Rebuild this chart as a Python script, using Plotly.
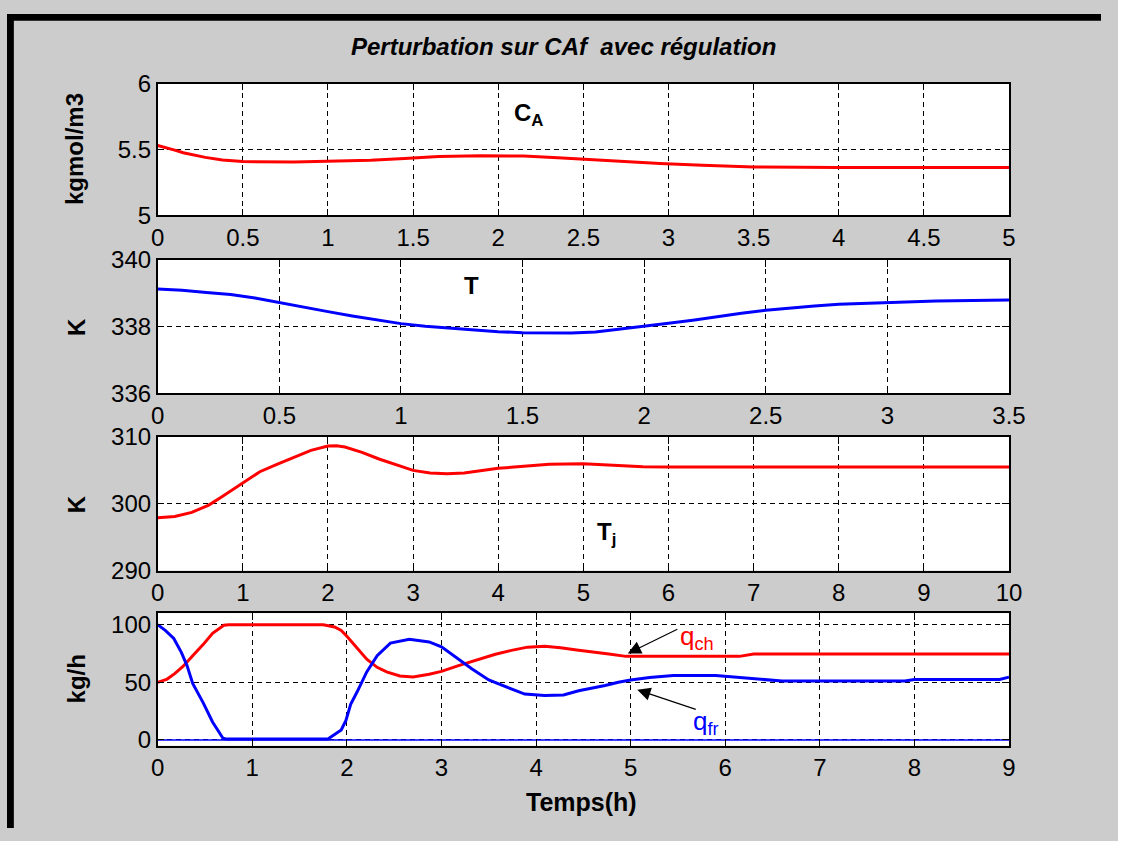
import plotly.graph_objects as go

# ---- data -------------------------------------------------------------
# Concentration CA (kgmol/m3)
t_ca = [0, 0.05, 0.1, 0.15, 0.2, 0.28, 0.38, 0.5, 0.8, 1.05, 1.25, 1.45, 1.65,
        1.9, 2.15, 2.35, 2.55, 2.75, 2.95, 3.2, 3.5, 4.0, 4.5, 5.0]
ca = [5.53, 5.515, 5.495, 5.475, 5.46, 5.44, 5.42, 5.408, 5.405, 5.41, 5.419,
      5.432, 5.446, 5.452, 5.45, 5.438, 5.422, 5.406, 5.393, 5.38, 5.368,
      5.363, 5.363, 5.363]

# Reactor temperature T (K)
t_T = [0, 0.1, 0.2, 0.3, 0.4, 0.5, 0.6, 0.7, 0.8, 0.9, 1.0, 1.1, 1.2, 1.3,
       1.4, 1.5, 1.6, 1.7, 1.8, 1.9, 2.0, 2.1, 2.2, 2.3, 2.4, 2.5, 2.6, 2.7,
       2.8, 3.0, 3.2, 3.5]
T = [339.13, 339.09, 339.02, 338.96, 338.86, 338.72, 338.57, 338.45, 338.32,
     338.2, 338.09, 338.01, 337.95, 337.89, 337.85, 337.82, 337.81, 337.81,
     337.84, 337.92, 338.02, 338.1, 338.19, 338.3, 338.4, 338.49, 338.56,
     338.62, 338.67, 338.73, 338.77, 338.8]

# Jacket temperature Tj (K)
t_tj = [0, 0.2, 0.4, 0.5, 0.6, 0.75, 0.9, 1.0, 1.2, 1.4, 1.6, 1.8, 2.0, 2.1,
        2.2, 2.4, 2.6, 2.8, 3.0, 3.2, 3.4, 3.6, 3.8, 4.0, 4.3, 4.6, 5.0, 5.3,
        5.7, 6, 7, 8, 9, 10]
tj = [297.9, 298.1, 298.7, 299.2, 299.8, 301.0, 302.3, 303.1, 304.8, 305.9,
      307.0, 308.0, 308.65, 308.7, 308.5, 307.7, 306.7, 305.8, 305.0, 304.6,
      304.5, 304.6, 304.9, 305.3, 305.6, 305.9, 306.0, 305.8, 305.55, 305.5,
      305.5, 305.5, 305.5, 305.5]

# Hot flow q_ch (kg/h)
t_qch = [0, 0.1, 0.18, 0.27, 0.37, 0.48, 0.58, 0.7, 0.75, 1.75, 1.87, 1.94,
         2.0, 2.11, 2.21, 2.32, 2.42, 2.56, 2.7, 2.87, 3.0, 3.18, 3.39, 3.57,
         3.74, 3.91, 4.09, 4.26, 4.43, 4.6, 4.77, 4.95, 6.15, 6.3, 9.0]
qch = [50, 52.8, 57.5, 64, 73, 82.7, 92.5, 99.5, 100, 100, 98, 95, 90, 80, 70,
       63, 59, 55.5, 54.7, 57, 59.5, 64.5, 70, 74.3, 77.7, 80.5, 81.3, 80, 78,
       76.5, 74.5, 72.5, 72.5, 74.6, 74.6]

# Cold flow q_fr (kg/h)
t_qfr = [0, 0.08, 0.17, 0.25, 0.31, 0.37, 0.48, 0.58, 0.69, 0.72, 1.8, 1.87,
         1.94, 1.99, 2.04, 2.11, 2.21, 2.32, 2.46, 2.66, 2.87, 3.0, 3.15, 3.32,
         3.5, 3.67, 3.88, 4.09, 4.29, 4.45, 4.6, 4.73, 4.87, 5.0, 5.2, 5.45,
         5.9, 6.1, 6.3, 6.6, 7.9, 8.0, 8.9, 9.0]
qfr = [100, 95, 88, 76, 64.5, 49, 32.4, 15.6, 1.5, 0.8, 0.8, 4.5, 8.7, 17, 31,
       42, 59, 73, 84, 87.4, 85, 80.7, 71.5, 61.7, 52, 46.4, 39.8, 38.5, 39,
       42.7, 45, 47.2, 50, 52, 54.2, 55.9, 55.9, 54.5, 52.8, 51.1, 51.1, 52.5,
       52.5, 54.5]

# Zero reference line
t_zero = [0, 9]
zero = [0, 0]

# ---- layout helpers ---------------------------------------------------
# The page body keeps its default 8 px margin, so the figure is sized to
# fill the remaining window and every position below is given in window
# pixels, shifted by that margin.
PAGE_W, PAGE_H, BODY = 1134, 857, 8
W, H = PAGE_W - 2 * BODY, PAGE_H - 2 * BODY
FONT = "Liberation Sans, Arial, sans-serif"
RED, BLUE = "#ff0000", "#0000ff"


def px(x):
    return (x - BODY) / W


def py(y):
    return 1 - (y - BODY) / H


X0, X1 = 162, 1032
rows = [(80, 216), (262, 400), (445, 583), (627, 764)]

fig = go.Figure()

traces = [
    (t_ca, ca, RED, 3),
    (t_T, T, BLUE, 3),
    (t_tj, tj, RED, 3),
    (t_qch, qch, RED, 3),
    (t_qfr, qfr, BLUE, 3),
    (t_zero, zero, BLUE, 1.5),
]
axis_of = [1, 2, 3, 4, 4, 4]
for (x, y, c, w), k in zip(traces, axis_of):
    fig.add_trace(go.Scatter(
        x=x, y=y, mode="lines", line=dict(color=c, width=w),
        xaxis="x" if k == 1 else f"x{k}", yaxis="y" if k == 1 else f"y{k}",
        showlegend=False, hoverinfo="skip"))

x_ranges = [(0, 5, 0.5), (0, 3.5, 0.5), (0, 10, 1), (0, 9, 1)]
y_ranges = [(5, 6, [5, 5.5, 6]), (336, 340, [336, 338, 340]),
            (290, 310, [290, 300, 310]), (-5, 110, [0, 50, 100])]

axis_common = dict(
    showline=True, linecolor="black", linewidth=1.5, mirror="ticks",
    ticks="inside", ticklen=7, tickcolor="black", tickwidth=1,
    showgrid=True, gridcolor="black", gridwidth=1, griddash="5px,4px",
    zeroline=False, tickfont=dict(family=FONT, size=24, color="black"),
    fixedrange=True,
)

layout_axes = {}
for i in range(4):
    k = i + 1
    xname = "xaxis" if k == 1 else f"xaxis{k}"
    yname = "yaxis" if k == 1 else f"yaxis{k}"
    top, bot = rows[i]
    xa, xb, dx = x_ranges[i]
    ya, yb, yt = y_ranges[i]
    layout_axes[xname] = dict(
        axis_common, domain=[px(X0), px(X1)], range=[xa, xb],
        tick0=0, dtick=dx, anchor="y" if k == 1 else f"y{k}")
    layout_axes[yname] = dict(
        axis_common, domain=[py(bot), py(top)], range=[ya, yb],
        tickvals=yt, anchor="x" if k == 1 else f"x{k}")

fig.update_layout(**layout_axes)

# ---- texts ------------------------------------------------------------
ann = []


def text(x, y, s, size=24, color="black", bold=False, italic=False,
         angle=0, xanchor="center"):
    if bold:
        s = f"<b>{s}</b>"
    if italic:
        s = f"<i>{s}</i>"
    ann.append(dict(x=px(x), y=py(y), xref="paper", yref="paper", text=s,
                    showarrow=False, textangle=angle, xanchor=xanchor,
                    yanchor="middle",
                    font=dict(family=FONT, size=size, color=color)))


text(577, 42, "Perturbation sur CAf&nbsp; avec régulation", size=24,
     bold=True, italic=True)
text(77, 148, "kgmol/m3", size=24, bold=True, angle=-90)
text(79, 331, "K", size=24, bold=True, angle=-90)
text(79, 514, "K", size=24, bold=True, angle=-90)
text(79, 695, "kg/h", size=24, bold=True, angle=-90)
text(595, 822, "Temps(h)", size=25, bold=True)

text(541, 112, "C<sub>A</sub>", size=24, bold=True)
text(483, 288, "T", size=24, bold=True)
text(621, 545, "T<sub>j</sub>", size=24, bold=True)
text(694, 652, "q<sub>ch</sub>", size=26, color=RED, xanchor="left")
text(707, 740, "q<sub>fr</sub>", size=26, color=BLUE, xanchor="left")

# Arrows pointing to the two flow curves
for hx, hy, axp, ayp in [(4.97, 75.0, 51, -25), (5.07, 43.5, 60, 20)]:
    ann.append(dict(x=hx, y=hy, xref="x4", yref="y4", text="",
                    showarrow=True, arrowhead=2, arrowsize=2.2,
                    arrowwidth=1.2, arrowcolor="black", ax=axp, ay=ayp))

# ---- figure frame: black band along the top and left edges -------------
shapes = [
    dict(type="rect", xref="paper", yref="paper", x0=0, x1=1, y0=py(15),
         y1=1, fillcolor="black", line_width=0, layer="above"),
    dict(type="rect", xref="paper", yref="paper", x0=0, x1=px(15), y0=0,
         y1=1, fillcolor="black", line_width=0, layer="above"),
]

fig.update_layout(
    width=W, height=H, margin=dict(l=0, r=0, t=0, b=0),
    paper_bgcolor="#cccccc", plot_bgcolor="white",
    annotations=ann, shapes=shapes, showlegend=False,
    font=dict(family=FONT, color="black"),
)

fig.write_html("out.html", config={"displayModeBar": False})
